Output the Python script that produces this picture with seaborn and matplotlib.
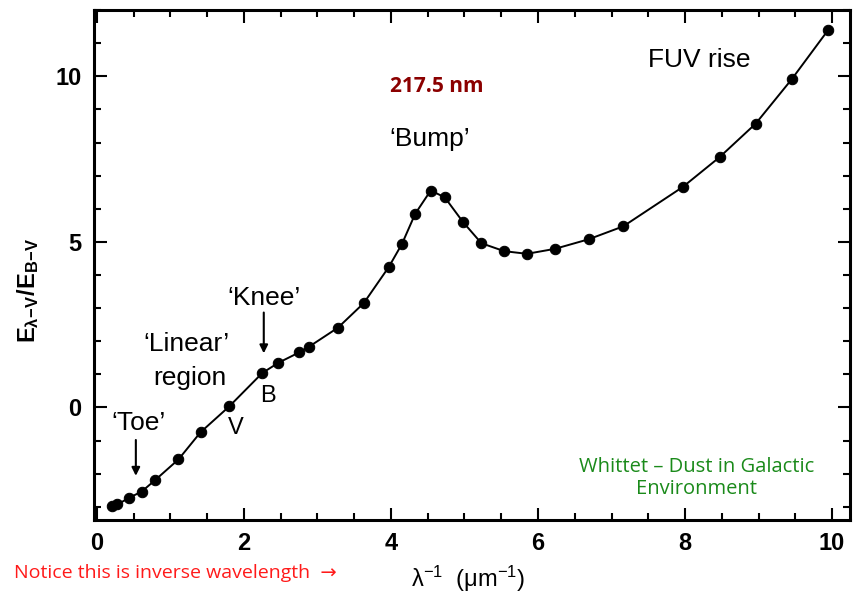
import numpy as np
import pandas as pd
import matplotlib
matplotlib.use("Agg")
import matplotlib.pyplot as plt
from matplotlib.ticker import MultipleLocator
import seaborn as sns

# extinction curve
inv_wavelength = [0.20, 0.28, 0.44, 0.61, 0.79, 1.11, 1.41, 1.80, 2.25, 2.47,
                  2.75, 2.89, 3.28, 3.63, 3.97, 4.15, 4.33, 4.54, 4.73, 4.98,
                  5.23, 5.54, 5.85, 6.23, 6.69, 7.16, 7.97, 8.47, 8.96, 9.45, 9.95]
extinction = [-2.99, -2.93, -2.73, -2.54, -2.20, -1.57, -0.75, 0.03, 1.04, 1.35,
              1.66, 1.84, 2.41, 3.15, 4.24, 4.94, 5.85, 6.55, 6.35, 5.60,
              4.96, 4.72, 4.64, 4.79, 5.08, 5.47, 6.66, 7.56, 8.57, 9.91, 11.41]

df = pd.DataFrame({"x": inv_wavelength, "y": extinction})

sns.set_style("ticks")
plt.rcParams["font.family"] = ["Liberation Sans", "DejaVu Sans"]
plt.rcParams["mathtext.default"] = "regular"
for key in ["text.color", "axes.labelcolor", "xtick.color", "ytick.color",
            "axes.edgecolor"]:
    plt.rcParams[key] = "black"

fig = plt.figure(figsize=(8.54, 5.97), dpi=100)
ax = fig.add_axes([0.110, 0.129, 0.885, 0.854])

sns.lineplot(data=df, x="x", y="y", ax=ax, color="black", linewidth=1.4,
             marker="o", markersize=7.5, markeredgecolor="black")

ax.set_xlim(-0.04, 10.24)
ax.set_ylim(-3.4, 12.0)
ax.xaxis.set_major_locator(MultipleLocator(2))
ax.xaxis.set_minor_locator(MultipleLocator(0.5))
ax.yaxis.set_major_locator(MultipleLocator(5))
ax.yaxis.set_minor_locator(MultipleLocator(1))
ax.tick_params(which="both", direction="in", top=True, right=True, width=1.5)
ax.tick_params(which="major", length=9, labelsize=17, pad=9)
ax.tick_params(which="minor", length=5)
ax.tick_params(axis="x", labeltop=False)
ax.tick_params(axis="y", labelright=False)
for lab in ax.get_xticklabels() + ax.get_yticklabels():
    lab.set_fontweight("bold")
for sp in ax.spines.values():
    sp.set_linewidth(2.2)

ax.set_xlabel(r"$\lambda^{-1}$  ($\mu$m$^{-1}$)", fontsize=17)
ax.set_ylabel(r"E$_{\lambda\!-\!V}$/E$_{B\!-\!V}$", fontsize=17,
              fontweight="bold")
ax.xaxis.set_label_coords(0.495, -0.085)
ax.yaxis.set_label_coords(-0.07, 0.45)

# annotations from the original figure
big = 19
ax.text(4.53, 8.1, "\u2018Bump\u2019", fontsize=big, ha="center", va="center")
ax.text(8.2, 10.5, "FUV rise", fontsize=big, ha="center", va="center")
ax.text(2.27, 3.32, "\u2018Knee\u2019", fontsize=big, ha="center", va="center")
ax.text(1.22, 1.93, "\u2018Linear\u2019", fontsize=big, ha="center", va="center")
ax.text(1.27, 0.90, "region", fontsize=big, ha="center", va="center")
ax.text(2.33, 0.36, "B", fontsize=17, ha="center", va="center")
ax.text(1.89, -0.63, "V", fontsize=17, ha="center", va="center")
ax.text(0.56, -0.48, "\u2018Toe\u2019", fontsize=big, ha="center", va="center")
ax.annotate("", xy=(2.27, 1.55), xytext=(2.27, 2.95),
            arrowprops=dict(arrowstyle="-|>", color="black", lw=1.5,
                            mutation_scale=12))
ax.annotate("", xy=(0.53, -2.15), xytext=(0.53, -0.9),
            arrowprops=dict(arrowstyle="-|>", color="black", lw=1.5,
                            mutation_scale=12))

ax.text(4.62, 9.7, "217.5 nm", fontsize=15, fontweight="bold",
        color="#8b0000", ha="center", va="center", family="Open Sans")

fig.text(697 / 854, 1 - 478 / 597, "Whittet \u2013 Dust in Galactic\nEnvironment",
         fontsize=14.5, color="#1a8a1a", ha="center", va="center",
         family="Open Sans", linespacing=1.2)
fig.text(14 / 854, 1 - 573 / 597, "Notice this is inverse wavelength  \u2192",
         fontsize=14, color="#ff1a1a", ha="left", va="center",
         family=["Open Sans", "DejaVu Sans"])

fig.savefig("out.png", dpi=100)
